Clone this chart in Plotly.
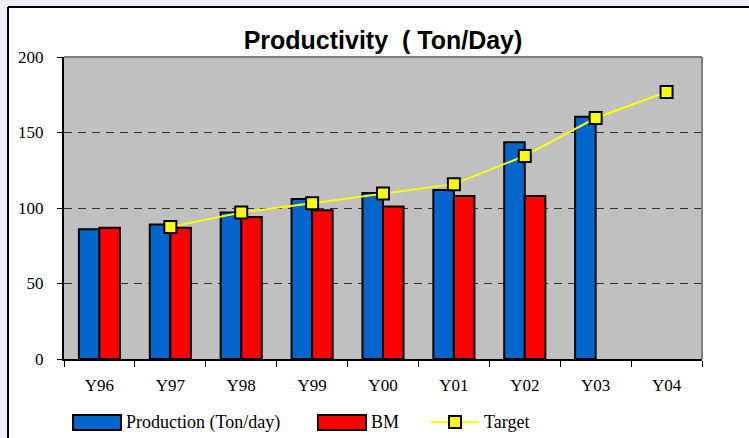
import plotly.graph_objects as go

categories = ["Y96", "Y97", "Y98", "Y99", "Y00", "Y01", "Y02", "Y03", "Y04"]
production = [86, 89, 97, 106, 110, 112, 143.5, 160.5, None]
bm = [87, 87, 94, 98.5, 101, 108, 108, None, None]
target = [None, 87.5, 97, 103.2, 109.6, 115.8, 134.5, 159.6, 176.8]
y_ticks = [0, 50, 100, 150, 200]

W, H = 749, 438
L, R, T, B = 64, 47, 57, 79
PW, PH = W - L - R, H - T - B

def px(x):
    return (x - L) / PW

def py(y):
    return (H - B - y) / PH

SERIF = "Liberation Serif, Times New Roman, serif"
SANS = "Liberation Sans, Arial, sans-serif"

fig = go.Figure()
fig.add_trace(go.Bar(x=categories, y=production, name="Production (Ton/day)",
                     marker=dict(color="#0066CC", line=dict(color="black", width=2))))
fig.add_trace(go.Bar(x=categories, y=bm, name="BM",
                     marker=dict(color="#FF0000", line=dict(color="black", width=2))))
fig.add_trace(go.Scatter(x=categories, y=target, name="Target", mode="lines+markers",
                         line=dict(color="#FFFF00", width=2),
                         marker=dict(symbol="square", size=12, color="#FFFF00",
                                     line=dict(color="black", width=2))))

shapes = []
# page background strips and frame
shapes.append(dict(type="rect", xref="paper", yref="paper", x0=px(-5), x1=px(8), y0=py(-5), y1=py(445),
                   fillcolor="#EFEFF9", line=dict(width=0), layer="below"))
shapes.append(dict(type="rect", xref="paper", yref="paper", x0=px(-5), x1=px(755), y0=py(-5), y1=py(7),
                   fillcolor="#EFEFF9", line=dict(width=0), layer="below"))
shapes.append(dict(type="line", xref="paper", yref="paper", x0=px(8), x1=px(8), y0=py(7), y1=py(445),
                   line=dict(color="black", width=2)))
shapes.append(dict(type="line", xref="paper", yref="paper", x0=px(8), x1=px(755), y0=py(7), y1=py(7),
                   line=dict(color="black", width=2)))
# plot area top/right gray border
shapes.append(dict(type="line", xref="paper", yref="paper", x0=0, x1=1, y0=1, y1=1,
                   line=dict(color="#808080", width=2)))
shapes.append(dict(type="line", xref="paper", yref="paper", x0=1, x1=1, y0=0, y1=1,
                   line=dict(color="#808080", width=2)))

# custom legend
ly = 422
shapes.append(dict(type="rect", xref="paper", yref="paper", x0=px(73), x1=px(121), y0=py(430), y1=py(415),
                   fillcolor="#0066CC", line=dict(color="black", width=2)))
shapes.append(dict(type="rect", xref="paper", yref="paper", x0=px(318), x1=px(366), y0=py(430), y1=py(415),
                   fillcolor="#FF0000", line=dict(color="black", width=2)))
shapes.append(dict(type="line", xref="paper", yref="paper", x0=px(431), x1=px(479), y0=py(ly), y1=py(ly),
                   line=dict(color="#FFFF00", width=2)))
shapes.append(dict(type="rect", xref="paper", yref="paper", x0=px(449), x1=px(461), y0=py(428), y1=py(416),
                   fillcolor="#FFFF00", line=dict(color="black", width=2)))

annotations = []
for xpos, txt in [(124, "Production (Ton/day)"), (369, "BM"), (482, "Target")]:
    annotations.append(dict(x=px(xpos), y=py(ly), xref="paper", yref="paper", text=txt,
                            showarrow=False, xanchor="left", yanchor="middle",
                            font=dict(family=SERIF, size=18, color="black")))

fig.update_layout(
    width=W, height=H,
    margin=dict(l=L, r=R, t=T, b=B),
    paper_bgcolor="white",
    plot_bgcolor="#C0C0C0",
    barmode="group",
    bargap=0.42,
    bargroupgap=0,
    showlegend=False,
    title=dict(text="<b>Productivity\u00a0\u00a0( Ton/Day)</b>", x=0.5, xref="paper",
               y=1 - 40 / H, yref="container", xanchor="center", yanchor="middle",
               font=dict(family=SANS, size=25, color="black")),
    shapes=shapes,
    annotations=annotations,
    xaxis=dict(type="category", showline=True, linecolor="black", linewidth=2,
               ticks="outside", tickson="boundaries", ticklen=6, tickcolor="black", tickwidth=1,
               showgrid=False, tickfont=dict(family=SERIF, size=17, color="black"),
               ticklabelstandoff=10, range=[-0.5, 8.5]),
    yaxis=dict(range=[0, 200], tickvals=y_ticks, showline=True, linecolor="black", linewidth=2,
               ticks="outside", ticklen=5, tickcolor="black", tickwidth=1,
               showgrid=True, gridcolor="#303030", gridwidth=1, griddash="8px,6px",
               zeroline=False, tickfont=dict(family=SERIF, size=17, color="black"),
               ticklabelstandoff=10),
)

fig.write_html("out.html", config={"displayModeBar": False},
               post_script="document.body.style.margin='0';document.body.style.overflow='hidden';")
